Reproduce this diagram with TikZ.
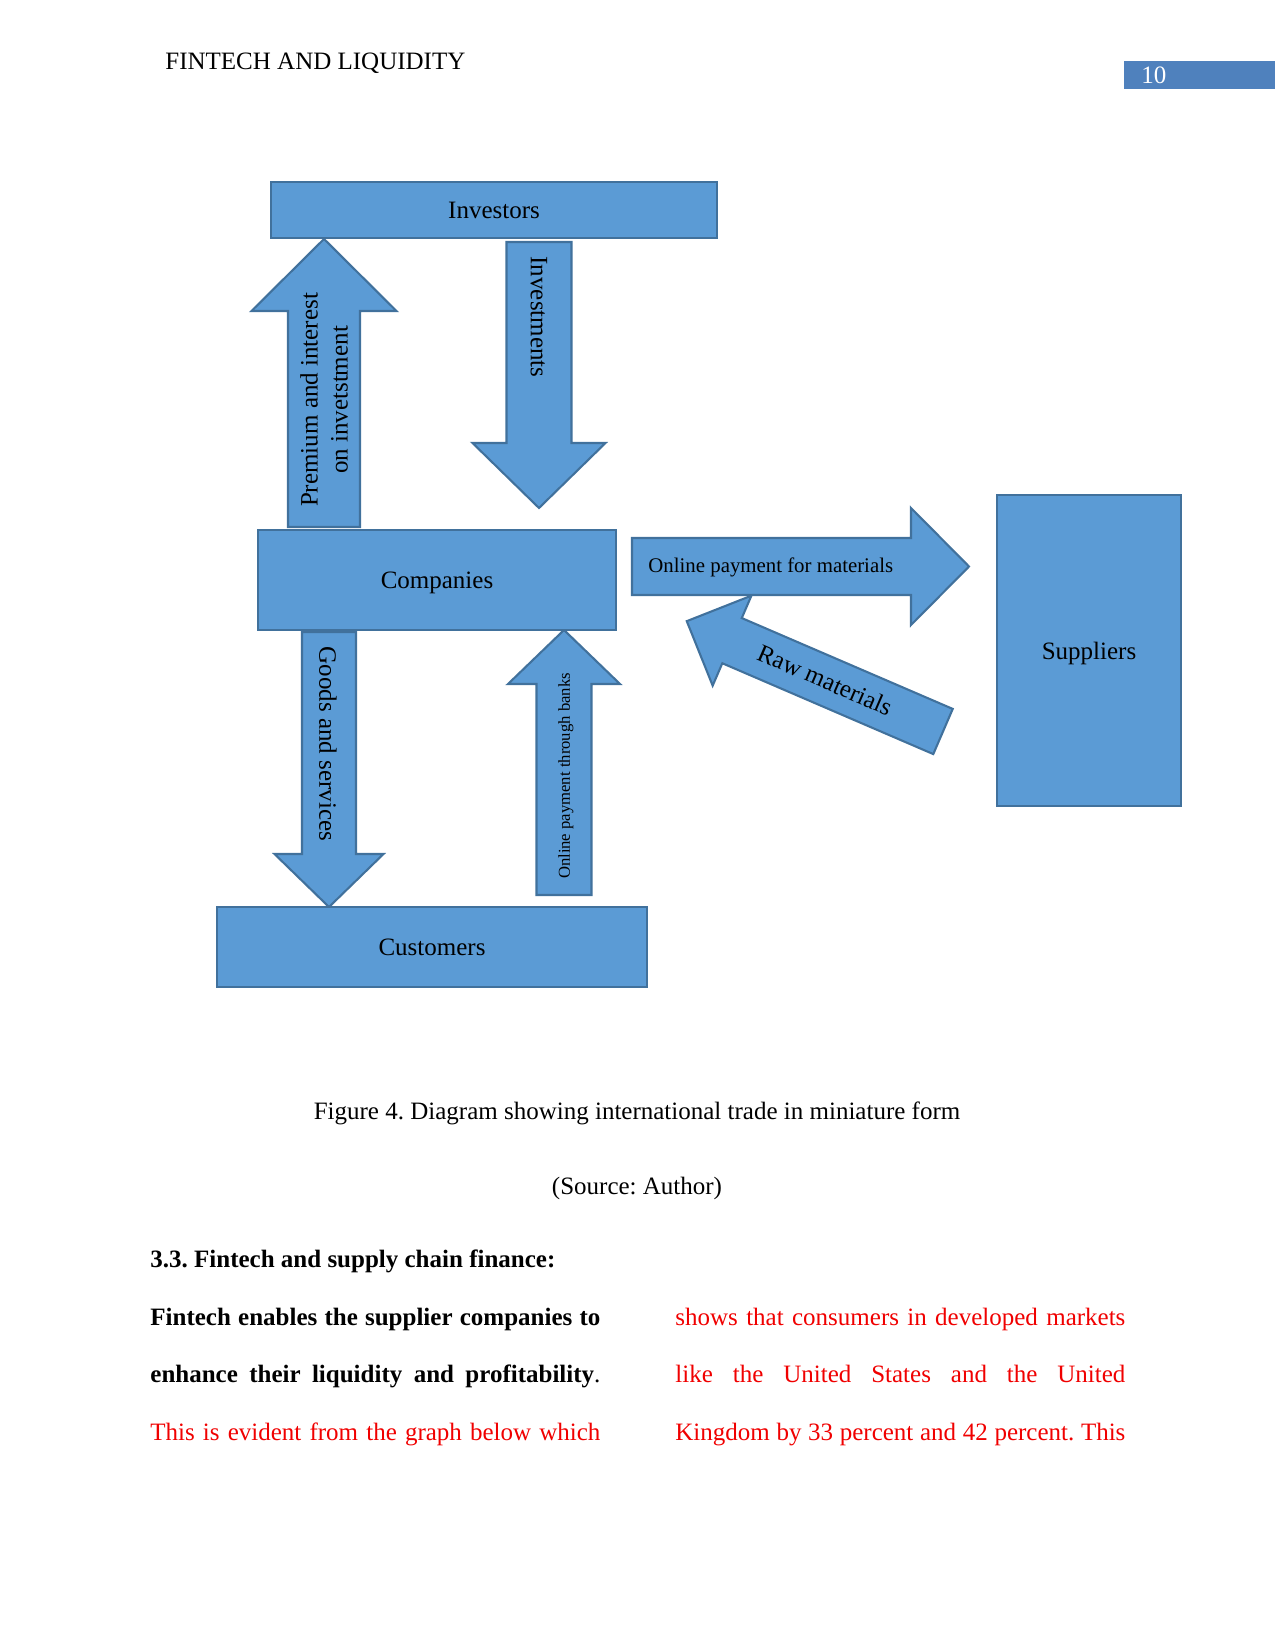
\documentclass[tikz,border=0pt]{standalone}
\usepackage{fontspec}
\setmainfont{Liberation Serif}
\definecolor{boxblue}{HTML}{5B9BD5}
\definecolor{boxline}{HTML}{41719C}
\definecolor{pageblue}{HTML}{4F81BD}
\definecolor{textred}{HTML}{F00000}
\frenchspacing

% block arrow: #1 tail, #2 angle, #3 length, #4 shaft half width, #5 head half width, #6 head length
\newcommand{\blockarrow}[6]{%
  \draw[arrowbody, shift={#1}, rotate=#2]
    (0,-#4) -- ({#3-#6},-#4) -- ({#3-#6},-#5) -- (#3,0)
    -- ({#3-#6},#5) -- ({#3-#6},#4) -- (0,#4) -- cycle;}

\begin{document}
\begin{tikzpicture}[x=0.48pt, y=0.48pt,
    font=\fontsize{12}{14.4}\selectfont,
    box/.style={draw=boxline, fill=boxblue, line width=1pt, inner sep=0pt, text depth=0pt},
    arrowbody/.style={draw=boxline, fill=boxblue, line width=1pt, line join=miter},
    lbl/.style={inner sep=0pt},
    bodyline/.style={inner sep=0pt, anchor=base west}]
    \def\px{0.48pt}
    \useasboundingbox (0,0) rectangle (1275,-1650);

    % page head
    \node[lbl, anchor=base west] (head) at (165,-70) {FINTECH AND LIQUIDITY};
    \node[fill=pageblue, inner sep=0pt, anchor=north west,
          minimum width=151*\px, minimum height=28*\px] (pagebox) at (1124,-61) {};
    \node[lbl, anchor=west, text=white] (pagenum) at (1141,-75) {10};

    % arrows
    \blockarrow{(324,-527)}{90}{288}{36}{72.5}{72}
    \blockarrow{(539,-242)}{-90}{266}{32.5}{66.5}{65}
    \blockarrow{(329,-632)}{-90}{275}{27}{54.5}{53}
    \blockarrow{(564,-895)}{90}{265}{27.5}{56}{54}
    \blockarrow{(632,-566.5)}{0}{337}{28.5}{58.5}{58}
    \blockarrow{(943,-731.5)}{156.7}{279}{24.6}{49}{49.3}

    % boxes
    \node[box, minimum width=446*\px, minimum height=56*\px] (inv) at (494,-210) {Investors};
    \node[box, minimum width=358*\px, minimum height=100*\px] (comp) at (437,-580) {Companies};
    \node[box, minimum width=430*\px, minimum height=80*\px] (cust) at (432,-947) {Customers};
    \node[box, minimum width=184*\px, minimum height=311*\px] (supp) at (1089,-650.5) {Suppliers};

    % arrow labels
    \node[lbl, rotate=90, align=center] (lprem) at (324,-400) {Premium and interest\\on invetstment};
    \node[lbl, rotate=-90] (linv) at (539,-317) {Investments};
    \node[lbl, rotate=-90] (lgoods) at (328,-744) {Goods and services};
    \node[lbl, rotate=90, font=\fontsize{8}{9.6}\selectfont] (lbank) at (566,-776) {Online payment through banks};
    \node[lbl, anchor=west, font=\fontsize{10}{12}\selectfont] (lpay) at (648,-567) {Online payment for materials};
    \node[lbl, rotate=-23.4] (lraw) at (825,-680) {Raw materials};

    % caption
    \node[lbl, anchor=base] (cap) at (637,-1119) {Figure 4. Diagram showing international trade in miniature form};
    \node[lbl, anchor=base] (src) at (637,-1194) {(Source: Author)};

    % text below
    \node[bodyline] (sec) at (150,-1267.5) {\textbf{3.3. Fintech and supply chain finance:}};
    \node[bodyline] (l1) at (150,-1325) {\makebox[216pt][s]{\textbf{Fintech enables the supplier companies to}}};
    \node[bodyline] (l2) at (150,-1382.5) {\makebox[216pt][s]{\textbf{enhance their liquidity and profitability}.}};
    \node[bodyline, text=textred] (l3) at (150,-1440) {\makebox[216pt][s]{This is evident from the graph below which}};
    \node[bodyline, text=textred] (r1) at (675,-1325) {\makebox[216pt][s]{shows that consumers in developed markets}};
    \node[bodyline, text=textred] (r2) at (675,-1382.5) {\makebox[216pt][s]{like the United States and the United}};
    \node[bodyline, text=textred] (r3) at (675,-1440) {\makebox[216pt][s]{Kingdom by 33 percent and 42 percent. This}};
\end{tikzpicture}
\end{document}
